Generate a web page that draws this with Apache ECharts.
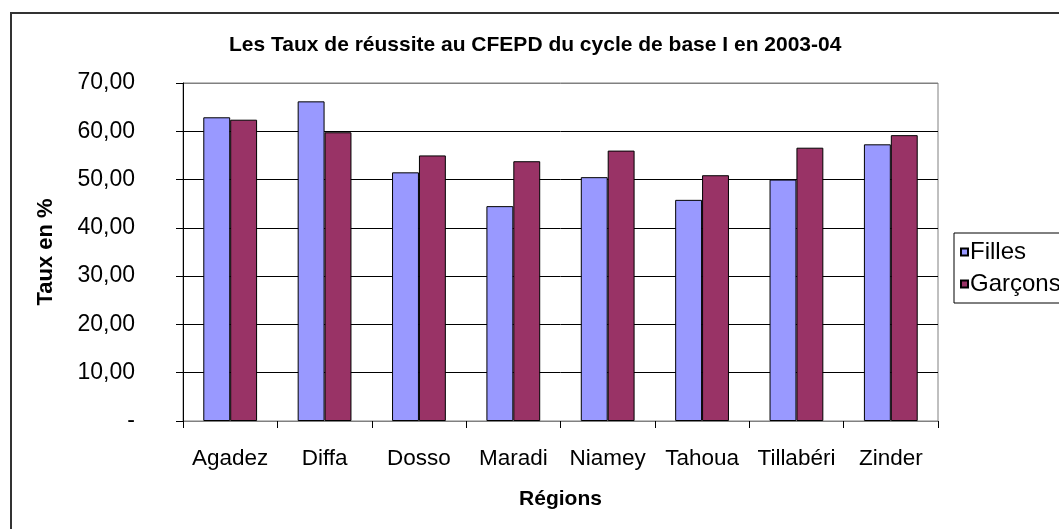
<!DOCTYPE html>
<html>
<head>
<meta charset="utf-8">
<script src="https://cdn.jsdelivr.net/npm/echarts@6/dist/echarts.min.js"></script>
<style>
    html, body { margin: 0; padding: 0; background: #fff; }
    #chart { width: 1059px; height: 529px; }
</style>
</head>
<body>
<div id="chart"></div>
<script>
// regions (x axis)
const regions = ['Agadez', 'Diffa', 'Dosso', 'Maradi', 'Niamey', 'Tahoua', 'Tillabéri', 'Zinder'];
// success rates in %
const filles = [62.9, 66.2, 51.5, 44.5, 50.5, 45.8, 50.0, 57.3];
const garcons = [62.4, 59.8, 55.0, 53.8, 56.0, 50.9, 56.6, 59.2];
// y axis tick labels, from 0 up to 70
const yTickLabels = ['-', '10,00', '20,00', '30,00', '40,00', '50,00', '60,00', '70,00'];

const font = 'Liberation Sans, Arial, sans-serif';

const option = {
    animation: false,
    backgroundColor: '#fff',
    title: {
        text: 'Les Taux de réussite au CFEPD du cycle de base I en 2003-04',
        left: 229,
        top: 35,
        padding: 0,
        textStyle: { fontFamily: font, fontSize: 21, fontWeight: 'bold', color: '#000' },
    },
    graphic: [
        {
            type: 'rect',
            shape: { x: 11, y: 13, width: 1070, height: 540 },
            style: { fill: 'none', stroke: '#333', lineWidth: 2 },
            z: 100,
        },
    ],
    legend: {
        orient: 'vertical',
        left: 954,
        top: 233,
        padding: [7, 60, 7, 6],
        itemGap: 8,
        itemWidth: 7,
        itemHeight: 7,
        icon: 'rect',
        borderColor: '#000',
        borderWidth: 1,
        textStyle: { fontFamily: font, fontSize: 24, color: '#000', padding: [0, 0, 0, -3] },
        data: ['Filles', 'Garçons'],
    },
    grid: {
        left: 183,
        right: 121,
        top: 83,
        bottom: 108,
        show: true,
        borderColor: '#808080',
        borderWidth: 1,
    },
    xAxis: {
        type: 'category',
        data: regions,
        name: 'Régions',
        nameLocation: 'middle',
        nameGap: 68,
        nameTextStyle: { fontFamily: font, fontSize: 21, fontWeight: 'bold', color: '#000' },
        axisLine: { lineStyle: { color: '#808080', width: 1 } },
        axisTick: { show: true, interval: 0, length: 7, lineStyle: { color: '#000' } },
        axisLabel: { interval: 0, margin: 26, fontFamily: font, fontSize: 22.5, color: '#000' },
    },
    yAxis: {
        type: 'value',
        min: 0,
        max: 70,
        interval: 10,
        name: 'Taux en %',
        nameLocation: 'middle',
        nameGap: 126,
        nameTextStyle: { fontFamily: font, fontSize: 22, fontWeight: 'bold', color: '#000' },
        axisLine: { show: true, lineStyle: { color: '#000', width: 1 } },
        axisTick: { show: true, length: 7, lineStyle: { color: '#000' } },
        axisLabel: {
            margin: 48,
            fontFamily: font,
            fontSize: 23,
            color: '#000',
            formatter: (v, i) => yTickLabels[i],
        },
        splitLine: {
            lineStyle: {
                color: ['#808080', '#000', '#000', '#000', '#000', '#000', '#000', '#808080'],
                width: 1,
            },
        },
    },
    series: [
        {
            name: 'Filles',
            type: 'bar',
            data: filles,
            barGap: '0%',
            barCategoryGap: '43%',
            itemStyle: { color: '#9999FF', borderColor: '#000', borderWidth: 1 },
        },
        {
            name: 'Garçons',
            type: 'bar',
            data: garcons,
            itemStyle: { color: '#993366', borderColor: '#000', borderWidth: 1 },
        },
    ],
};

const chart = echarts.init(document.getElementById('chart'));
chart.setOption(option);
</script>
</body>
</html>
